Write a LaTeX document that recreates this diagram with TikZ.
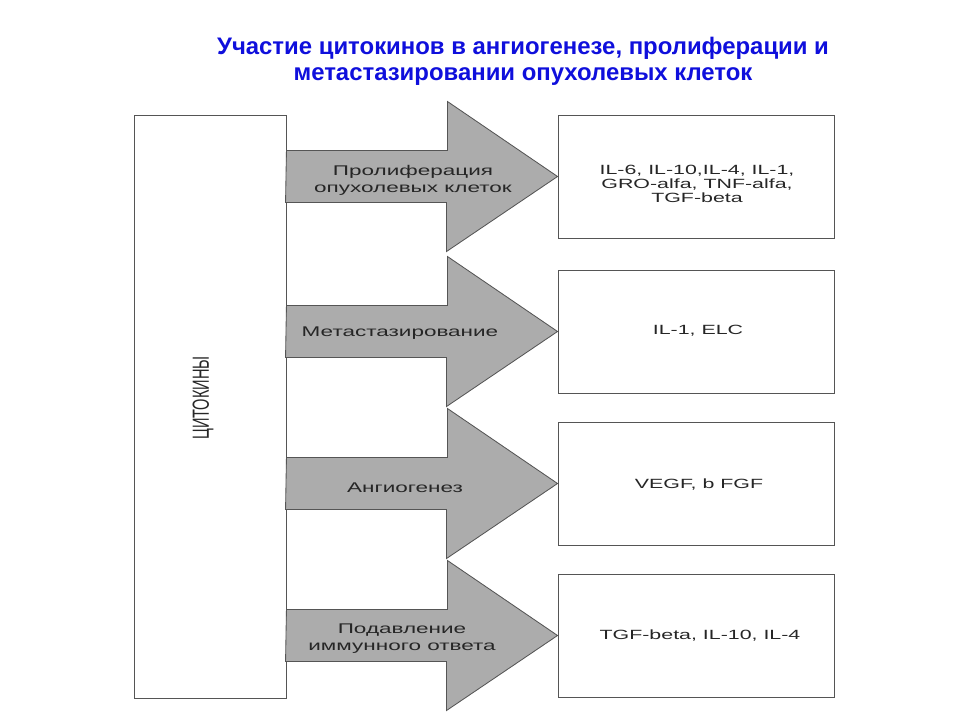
\documentclass[tikz,border=0pt]{standalone}
\usepackage{fontspec}
\setmainfont{Liberation Sans}
\newfontfamily\scanfont{Liberation Sans}[FakeStretch=1.6]
\newfontfamily\scanrotfont{Liberation Sans}[FakeStretch=0.625]
\definecolor{titleblue}{RGB}{15,15,220}
\definecolor{arrowgray}{RGB}{172,172,172}
\definecolor{linegray}{RGB}{85,85,85}
\begin{document}
\begin{tikzpicture}[
    x=0.025cm, y=-0.025cm,
    framebox/.style={
      rectangle,
      draw=linegray,
      line width=0.6pt,
      fill=white,
      inner sep=0pt,
      minimum width=6.9cm,
      minimum height=3.075cm
    },
    blockarrow/.style={
      draw=linegray,
      line width=0.6pt,
      fill=arrowgray,
      line join=miter
    },
    arrowlabel/.style={align=center, text=black!85, font=\scanfont\fontsize{10}{12}\selectfont},
    listlabel/.style={align=center, text=black!85, font=\scanfont\fontsize{9.5}{10}\selectfont}
  ]
  \useasboundingbox (0,0) rectangle (960,720);

  % title
  \node[align=center, text=titleblue, font=\bfseries\fontsize{17}{18.5}\selectfont] (title) at (523,61)
    {Участие цитокинов в ангиогенезе, пролиферации и\\метастазировании опухолевых клеток};

  % cytokines
  \node[framebox, minimum width=3.8cm, minimum height=14.55cm] (cyto) at (210,407) {};
  \node[rotate=90, text=black!85, font=\scanrotfont\fontsize{16.6}{18}\selectfont] (cytolabel) at (203,398) {ЦИТОКИНЫ};

  % results
  \node[framebox] (res1) at (696,176.5) {};
  \node[framebox] (res2) at (696,331.5) {};
  \node[framebox] (res3) at (696,483.5) {};
  \node[framebox] (res4) at (696,635.5) {};

  \node[listlabel] (list1) at (697,184) {IL-6, IL-10,IL-4, IL-1,\\GRO-alfa, TNF-alfa,\\TGF-beta};
  \node[listlabel] (list2) at (698,331) {IL-1, ELC};
  \node[listlabel] (list3) at (699,485) {VEGF, b FGF};
  \node[listlabel] (list4) at (700,636) {TGF-beta, IL-10, IL-4};

  % block arrows
  \foreach \i in {1,...,4}
    \filldraw[blockarrow] (cyto.east |- res\i.west) ++(0,-26) -- ++(161,0) -- ++(0,-49)
      -- (res\i.west) -- ++(-111,75) -- ++(0,-49) -- ++(-161,0) -- cycle;

  \node[arrowlabel] (lab1) at (413,180) {Пролиферация\\опухолевых клеток};
  \node[arrowlabel] (lab2) at (400,333) {Метастазирование};
  \node[arrowlabel] (lab3) at (405,488) {Ангиогенез};
  \node[arrowlabel] (lab4) at (402,639) {Подавление\\иммунного ответа};
\end{tikzpicture}
\end{document}
